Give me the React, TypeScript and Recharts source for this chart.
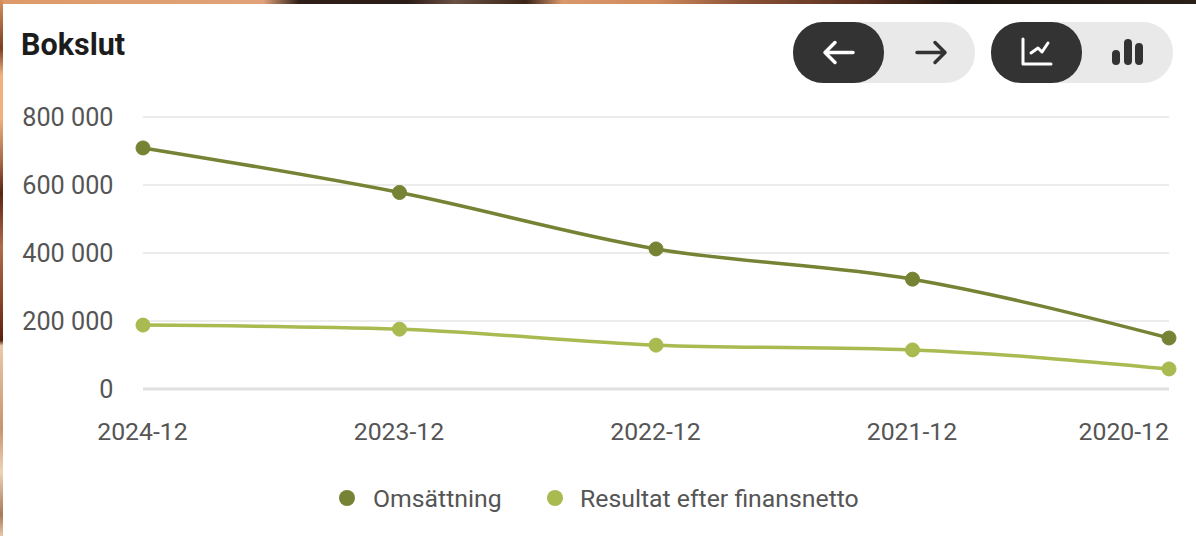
import { CartesianGrid, Legend, Line, LineChart, XAxis, YAxis } from 'recharts';

const periods = ['2024-12', '2023-12', '2022-12', '2021-12', '2020-12'];
const omsattning = [709000, 578000, 412000, 323000, 150000];
const resultat = [188000, 176000, 129000, 115000, 59000];
const yTicks = [0, 200000, 400000, 600000, 800000];

const FONT = 'Roboto, sans-serif';
const DARK = '#333333';
const data = periods.map((period, i) => ({ period, omsattning: omsattning[i], resultat: resultat[i] }));

function formatTick(value: number) {
  return String(value).replace(/\B(?=(\d{3})+$)/g, ' ');
}

function PeriodTick({ x, y, payload, index }: any) {
  const last = index === periods.length - 1;
  return (
    <text x={last ? x : x - 0.5} y={y} dy={31} textAnchor={last ? 'end' : 'middle'} fill="#555555" fontSize={24.8} fontFamily={FONT}>
      {payload.value}
    </text>
  );
}

function ChartLegend({ payload }: any) {
  return (
    <div style={{ position: 'relative', height: 40, fontFamily: FONT, fontSize: 24.8, color: '#555555' }}>
      {(payload ?? []).map((item: any, i: number) => (
        <div key={item.value} style={{ position: 'absolute', left: i === 0 ? 339 : 547, top: 0, display: 'flex', alignItems: 'center', height: 40, whiteSpace: 'nowrap' }}>
          <span style={{ width: 16, height: 16, borderRadius: 8, background: item.color, marginRight: i === 0 ? 18 : 17 }} />
          {item.value}
        </div>
      ))}
    </div>
  );
}

function Toggle({ left, children }: { left: number; children: React.ReactNode }) {
  return (
    <div style={{ position: 'absolute', left, top: 22, width: 182, height: 61, borderRadius: 30, background: '#e9e9e9' }}>
      <div style={{ position: 'absolute', left: 0, top: 0, width: 91, height: 61, borderRadius: 30, background: DARK }} />
      <svg width={182} height={61} style={{ position: 'absolute', left: 0, top: 0 }} fill="none" strokeLinecap="round" strokeLinejoin="round">
        {children}
      </svg>
    </div>
  );
}

export default function App() {
  return (
    <div style={{ position: 'absolute', left: 0, top: 0, width: 1196, height: 536, background: '#ffffff', overflow: 'hidden' }}>
      <div style={{ position: 'absolute', left: 0, top: 0, width: 1196, height: 4, background: 'linear-gradient(90deg, #dd9a68 0%, #e0a27a 22%, #2f1f18 25%, #2a1c16 34%, #6b5044 38%, #3a2418 44%, #d9986a 47%, #d08a5c 55%, #8a5236 62%, #5a3020 72%, #1f1510 80%, #2a2018 100%)' }} />
      <div style={{ position: 'absolute', left: 0, top: 0, width: 3, height: 536, background: 'linear-gradient(180deg, #d9915f 0%, #7a3f22 9%, #efb27e 14%, #efb27e 22%, #a86a48 30%, #5a2412 36%, #b06a4c 46%, #8a4428 56%, #5a2010 63.5%, #eac8a8 64.5%, #c8946c 80%, #eed2b8 88%, #a87a58 96%, #e8c8a8 100%)' }} />
      <div style={{ position: 'absolute', left: 21, top: 28, fontFamily: FONT, fontWeight: 700, fontSize: 30.5, lineHeight: '34px', color: '#1c1c1c' }}>Bokslut</div>

      <Toggle left={793}>
        <path d="M60 30.5H32M42 20.5L32 30.5L42 40.5" stroke="#ffffff" strokeWidth={3.5} />
        <path d="M124 30.5H152M142 20.5L152 30.5L142 40.5" stroke={DARK} strokeWidth={3.5} />
      </Toggle>
      <Toggle left={991}>
        <path d="M32 17V42H60" stroke="#ffffff" strokeWidth={3} />
        <path d="M40 31L47 26L51 30L57 21" stroke="#ffffff" strokeWidth={3} />
        <path d="M125 32V39M137 21V39M148 25V39" stroke={DARK} strokeWidth={8} />
      </Toggle>

      <LineChart
        width={1196}
        height={536}
        data={data}
        margin={{ top: 117, right: 27, bottom: 47, left: 0 }}
        style={{ position: 'absolute', left: 0, top: 0 }}
      >
        <CartesianGrid vertical={false} stroke="#ececec" strokeWidth={2} />
        <XAxis
          dataKey="period"
          interval={0}
          axisLine={{ stroke: '#e0e0e0', strokeWidth: 3 }}
          tickLine={false}
          tickSize={0}
          tickMargin={20}
          height={60}
          tick={PeriodTick}
        />
        <YAxis
          domain={[0, 800000]}
          ticks={yTicks}
          tickFormatter={formatTick}
          width={143}
          axisLine={false}
          tickLine={false}
          tickSize={0}
          tickMargin={29.5}
          tick={{ fill: '#555555', fontSize: 25.2, fontFamily: FONT }}
        />
        <Legend
          verticalAlign="bottom"
          align="left"
          content={ChartLegend}
          wrapperStyle={{ left: 0, top: 478, bottom: 'auto', width: 1196 }}
        />
        <Line
          type="monotone"
          dataKey="omsattning"
          name="Omsättning"
          stroke="#768234"
          strokeWidth={3.5}
          dot={{ r: 7, fill: '#768234', stroke: '#768234', strokeWidth: 1 }}
          isAnimationActive={false}
        />
        <Line
          type="monotone"
          dataKey="resultat"
          name="Resultat efter finansnetto"
          stroke="#a8ba50"
          strokeWidth={3.5}
          dot={{ r: 7, fill: '#a8ba50', stroke: '#a8ba50', strokeWidth: 1 }}
          isAnimationActive={false}
        />
      </LineChart>
    </div>
  );
}
